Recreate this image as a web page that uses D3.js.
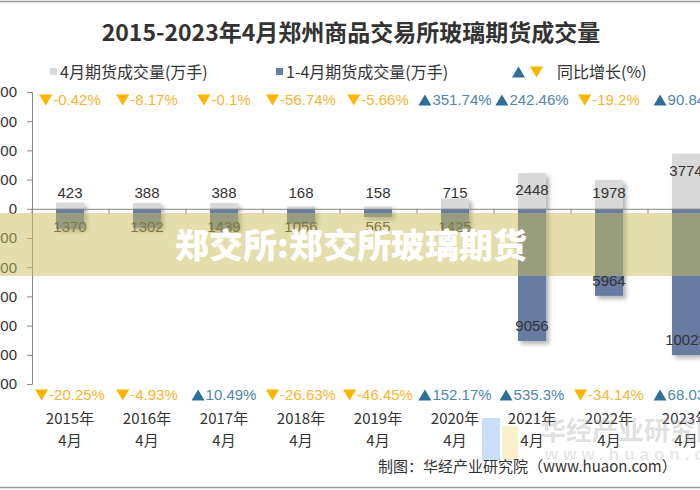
<!DOCTYPE html>
<html><head><meta charset="utf-8">
<script src="https://cdn.jsdelivr.net/npm/d3@7"></script>
<style>
html,body{margin:0;padding:0;background:#fff;}
svg{display:block;}
</style></head>
<body>
<svg id="chart" width="700" height="490"></svg>
<script>
const categories = ["2015年\n4月","2016年\n4月","2017年\n4月","2018年\n4月","2019年\n4月","2020年\n4月","2021年\n4月","2022年\n4月","2023年\n4月"];
const aprilVolume = [423, 388, 388, 168, 158, 715, 2448, 1978, 3774];
const janAprVolume = [1370, 1302, 1439, 1056, 565, 1425, 9056, 5964, 10023];
const aprilGrowth = [-0.42, -8.17, -0.1, -56.74, -5.66, 351.74, 242.46, -19.2, 90.84];
const janAprGrowth = [-20.25, -4.93, 10.49, -26.63, -46.45, 152.17, 535.3, -34.14, 68.03];
const yTicks = [8000, 6000, 4000, 2000, 0, -2000, -4000, -6000, -8000, -10000, -12000];

const svg = d3.select("#chart");
const W = 700, H = 490;
const cjk = "'Noto Sans CJK SC','Noto Sans',sans-serif";
const latin = "'Liberation Sans',Arial,sans-serif";

const defs = svg.append("defs");
const f = defs.append("filter").attr("id","sh").attr("x","-30%").attr("y","-30%").attr("width","170%").attr("height","170%");
f.append("feDropShadow").attr("dx",3).attr("dy",3).attr("stdDeviation",2).attr("flood-color","#000").attr("flood-opacity",0.3);

// frame
svg.append("line").attr("x1",0).attr("x2",W).attr("y1",1.5).attr("y2",1.5).attr("stroke","#999").attr("stroke-width",1.5);
svg.append("line").attr("x1",0).attr("x2",W).attr("y1",487.5).attr("y2",487.5).attr("stroke","#999").attr("stroke-width",1.5);

// title
svg.append("text").attr("x",351).attr("y",41).attr("text-anchor","middle")
  .style("font-family",cjk).style("font-size","23px").style("font-weight","bold").attr("fill","#333")
  .text("2015-2023年4月郑州商品交易所玻璃期货成交量");

// scales
const x = d3.scaleBand().domain(categories).range([32, 32 + 77*9]).paddingInner(0).paddingOuter(0);
const y = d3.scaleLinear().domain([-12000, 8000]).range([384, 92]);
const bw = 28;
const cx = d => x(d) + x.bandwidth()/2 - 0.5;

// y axis
const yAxis = svg.append("g").attr("transform","translate(32,0)")
  .call(d3.axisLeft(y).tickValues(yTicks).tickSize(5).tickPadding(10).tickFormat(d3.format("d")));
yAxis.select(".domain").attr("stroke","#888");
yAxis.selectAll(".tick line").attr("stroke","#888");
yAxis.selectAll("text").style("font-family",latin).style("font-size","15px").attr("fill","#333");

// bars
const g = svg.append("g");
g.selectAll(".b1").data(aprilVolume).enter().append("rect")
  .attr("x",(d,i)=>cx(categories[i]) - bw/2).attr("width",bw)
  .attr("y",d=>y(d)).attr("height",d=>y(0)-y(d))
  .attr("fill","#d9d9d9").attr("filter","url(#sh)");
g.selectAll(".b2").data(janAprVolume).enter().append("rect")
  .attr("x",(d,i)=>cx(categories[i]) - bw/2).attr("width",bw)
  .attr("y",y(0)).attr("height",d=>y(-d)-y(0))
  .attr("fill","#687ca3").attr("filter","url(#sh)");

// x axis
const xAxis = svg.append("g").attr("transform",`translate(0,${y(0)})`)
  .call(d3.axisBottom(x).tickSize(0).tickFormat(""));
xAxis.select(".domain").attr("stroke","#888");
const bounds = d3.range(10).map(i => 32 + i*x.bandwidth());
svg.append("g").selectAll("line").data(bounds).enter().append("line")
  .attr("x1",d=>d).attr("x2",d=>d).attr("y1",y(0)).attr("y2",y(0)+5).attr("stroke","#888");

// value labels
svg.append("g").selectAll("text").data(aprilVolume).enter().append("text")
  .attr("x",(d,i)=>cx(categories[i])).attr("y",d=>Math.min(y(0)-16, y(d)+17)+5)
  .attr("text-anchor","middle").style("font-family",latin).style("font-size","15px").attr("fill","#333")
  .text(d=>d);
svg.append("g").selectAll("text").data(janAprVolume).enter().append("text")
  .attr("x",(d,i)=>cx(categories[i])).attr("y",d=>Math.max(y(0)+18, y(-d)-15)+5)
  .attr("text-anchor","middle").style("font-family",latin).style("font-size","15px").attr("fill","#333")
  .text(d=>d);

// triangle helper
function tri(sel, x0, yc, up, color){
  const w = 13, h = 11;
  const p = up
    ? `M${x0},${yc+h/2}L${x0+w/2},${yc-h/2}L${x0+w},${yc+h/2}Z`
    : `M${x0},${yc-h/2}L${x0+w/2},${yc+h/2}L${x0+w},${yc-h/2}Z`;
  sel.append("path").attr("d",p).attr("fill",color);
}

// growth labels
const upTri = "#2f6f96", upTxt = "#4f86ae", dnTri = "#ffb400", dnTxt = "#f7b531";
function growthRow(data, yy){
  const gg = svg.append("g");
  data.forEach((v,i)=>{
    const t = gg.append("text").attr("y",yy)
      .style("font-family",latin).style("font-size","15px")
      .attr("fill", v>=0?upTxt:dnTxt).text(v + "%");
    const tw = t.node().getComputedTextLength();
    const total = 14 + tw;
    const x0 = cx(categories[i]) - total/2;
    t.attr("x", x0 + 14);
    tri(gg, x0, yy-5, v>=0, v>=0?upTri:dnTri);
  });
}
growthRow(aprilGrowth, 105);
growthRow(janAprGrowth, 400);

// category labels
svg.append("g").selectAll("text").data(categories).enter().append("text")
  .attr("x",d=>cx(d)).attr("y",424).attr("text-anchor","middle")
  .style("font-family",cjk).style("font-size","15px").attr("fill","#333")
  .each(function(d){
    const parts = d.split("\n");
    d3.select(this).selectAll("tspan").data(parts).enter().append("tspan")
      .attr("x",cx(d)).attr("dy",(p,j)=>j===0?0:22).text(p=>p);
  });

// legend
const lg = svg.append("g").style("font-family",cjk).style("font-size","16px").attr("fill","#333");
lg.append("rect").attr("x",50).attr("y",68).attr("width",7).attr("height",7).attr("fill","#d9d9d9");
lg.append("text").attr("x",60).attr("y",78).text("4月期货成交量(万手)");
lg.append("rect").attr("x",276).attr("y",68).attr("width",7).attr("height",7).attr("fill","#687ca3");
lg.append("text").attr("x",286).attr("y",78).text("1-4月期货成交量(万手)");
tri(lg, 512, 72, true, upTri);
tri(lg, 530, 72, false, dnTri);
lg.append("text").attr("x",557).attr("y",78).text("同比增长(%)");

// huaon watermark (faint)
const wm = svg.append("g").attr("opacity",0.35);
wm.append("rect").attr("x",482).attr("y",418).attr("width",18).attr("height",42).attr("fill","#6aa6e8");
wm.append("rect").attr("x",502).attr("y",426).attr("width",16).attr("height",34).attr("fill","#f5d76e");
wm.append("text").attr("x",540).attr("y",440).style("font-family",cjk).style("font-size","26px").style("font-weight","bold").attr("fill","#aaa").text("华经产业研究院");
wm.append("text").attr("x",545).attr("y",460).style("font-family",latin).style("font-size","17px").style("font-weight","bold").style("letter-spacing","5px").attr("fill","#bbb").text("www.huaon.com");

// footer
svg.append("text").attr("x",378).attr("y",472).style("font-family",cjk).style("font-size","15px").attr("fill","#333")
  .text("制图：华经产业研究院（www.huaon.com）");

// overlay band
svg.append("rect").attr("x",0).attr("y",213).attr("width",W).attr("height",63).attr("fill","rgb(200,190,90)").attr("opacity",0.5);
svg.append("text").attr("x",175).attr("y",258).style("font-family",cjk).style("font-size","34px").style("font-weight","900").attr("fill","#fff")
  .text("郑交所:郑交所玻璃期货");
</script>
</body></html>
